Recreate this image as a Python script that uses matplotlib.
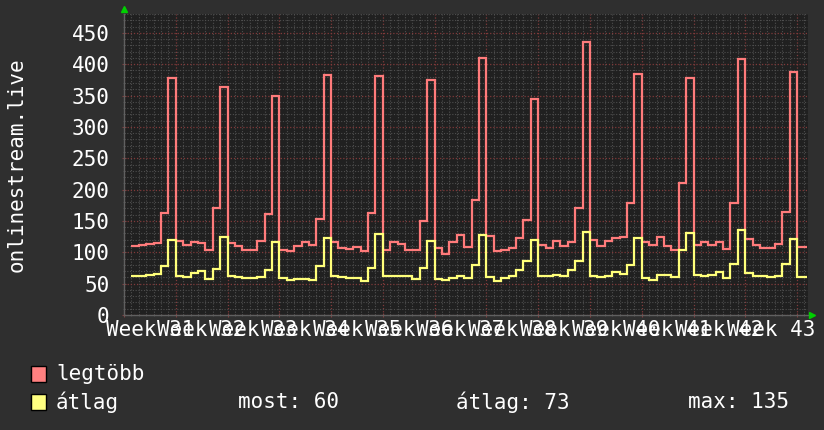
import numpy as np
import matplotlib
matplotlib.use("Agg")
import matplotlib.pyplot as plt
from matplotlib.patches import Rectangle
from matplotlib.transforms import blended_transform_factory

# ---- data (daily values, day 1 = Tuesday of week 31) ----
legtobb = [110, 111, 113, 115, 162, 378,
           117.5, 111, 116.5, 115.5, 104, 170, 363,
           115, 109.6, 103, 104, 117.5, 161, 349,
           104, 102, 110, 116, 111, 153, 382,
           116, 107, 104.5, 108, 101.6, 163, 381,
           104.3, 116, 114, 104.3, 104.3, 149.5, 375,
           107, 98, 116, 127, 108, 184, 410,
           126, 102, 104, 107, 122, 151, 344,
           111, 106.5, 117.6, 110, 116, 170, 435,
           119, 109.6, 117.6, 122, 124, 179, 384,
           116.5, 111, 124, 109.6, 103, 211, 378,
           112, 116, 112, 116, 105, 179, 409,
           121, 111, 107, 107, 113, 165, 388,
           108]
atlag = [62.7, 62, 63.8, 66, 78.7, 119,
         62.7, 60, 67, 69.6, 58, 74, 124,
         62.7, 60, 59, 59, 60, 71, 116,
         59, 56.4, 58, 58, 56.4, 77.6, 122,
         62.7, 61, 59, 58.5, 53.7, 75.5, 128.5,
         61.7, 62.5, 62, 62, 57, 75.5, 117.6,
         57, 56, 59.5, 62, 59.5, 79.5, 127,
         61, 55, 58.5, 61.7, 72.3, 85.6, 119,
         61.7, 61.7, 63.8, 62.7, 71.2, 85.6, 132,
         62.7, 60, 62.7, 68, 66, 79.3, 123,
         59, 56.4, 63.3, 63.3, 60.6, 103, 131,
         63.3, 61.7, 64.4, 68.6, 59, 81.4, 135,
         67, 62.7, 61.7, 60.6, 62.7, 81.4, 121.4,
         60]
week_numbers = list(range(31, 44))
y_ticks = list(range(0, 451, 50))
series_names = ["legtöbb", "átlag"]
stat_labels = ["most: 60", "átlag: 73", "max: 135"]
ylabel = "onlinestream.live"

# ---- style ----
BG = "#2f2f2f"
PLOT_BG = "#202020"
RED = "#ff7b7b"
YEL = "#ffff7a"
FONT = "DejaVu Sans Mono"
FS = 15

fig = plt.figure(figsize=(8.24, 4.30), dpi=100, facecolor=BG)
ax = fig.add_axes([124/824, 1-315/430, (808-124)/824, (315-14)/430])
ax.set_facecolor(PLOT_BG)

n = len(legtobb)
edges = np.arange(1, n + 2, dtype=float)
edges[-1] = n + 1.3
ax.set_xlim(1.08, 92.48)
ax.set_ylim(0, 480)

# grid
ax.set_xticks(np.arange(0, 93, 7))
ax.set_xticks(np.arange(0, 93, 1), minor=True)
ax.set_yticks(y_ticks)
ax.set_yticks(np.arange(0, 481, 10), minor=True)
ax.grid(which="minor", color="#4e4e4e", linestyle=(0, (1, 1.5)), linewidth=0.8, zorder=0)
ax.grid(which="major", color="#803a3a", linestyle=(0, (1, 1.5)), linewidth=0.9, zorder=0)
ax.set_axisbelow(True)

ax.stairs(legtobb, edges, color=RED, linewidth=1.6, baseline=None, zorder=3)
ax.stairs(atlag, edges, color=YEL, linewidth=1.6, baseline=None, zorder=3)

for s in ["top", "right"]:
    ax.spines[s].set_visible(False)
for s in ["left", "bottom"]:
    ax.spines[s].set_color("#606060")
    ax.spines[s].set_linewidth(1)

ax.tick_params(axis="x", which="major", length=3, color="#804040", labelbottom=False, direction="inout")
ax.tick_params(axis="x", which="minor", length=2, color="#555555", direction="inout")
ax.tick_params(axis="y", which="major", length=3, color="#804040", labelsize=FS,
               labelcolor="white", pad=9, direction="inout")
ax.tick_params(axis="y", which="minor", length=2, color="#555555", direction="inout")
for lab in ax.get_yticklabels():
    lab.set_fontfamily(FONT)

# week labels (centred in each week)
tr = blended_transform_factory(ax.transData, ax.transAxes)
for i, w in enumerate(week_numbers):
    ax.text(3.5 + 7 * i, -0.018, f"Week {w}", transform=tr, ha="center", va="top",
            fontsize=FS, family=FONT, color="white", clip_on=False)

ax.set_ylabel(ylabel, fontsize=FS, family=FONT, color="white")
ax.yaxis.set_label_coords(-0.142, 0.5)

# axis arrows
ax.plot([0], [1.015], marker="^", color="#00d000", markersize=5, transform=ax.transAxes, clip_on=False)
ax.plot([1.006], [0], marker=">", color="#00d000", markersize=5, transform=ax.transAxes, clip_on=False)

# legend
def fy(py):
    return 1 - py / 430

for (name, col, ytop) in [(series_names[0], "#ff8080", 366), (series_names[1], "#ffff80", 394)]:
    fig.patches.append(Rectangle((31/824, fy(ytop + 16)), 15/824, 16/430, transform=fig.transFigure,
                                 facecolor=col, edgecolor="black", linewidth=1))
    fig.text(56/824, fy(ytop + 8), name, fontsize=FS, family=FONT, color="white", va="center")

for x, t in zip([238, 456, 688], stat_labels):
    fig.text(x/824, fy(402), t, fontsize=FS, family=FONT, color="white", va="center")

fig.savefig("out.png", dpi=100, facecolor=BG)
